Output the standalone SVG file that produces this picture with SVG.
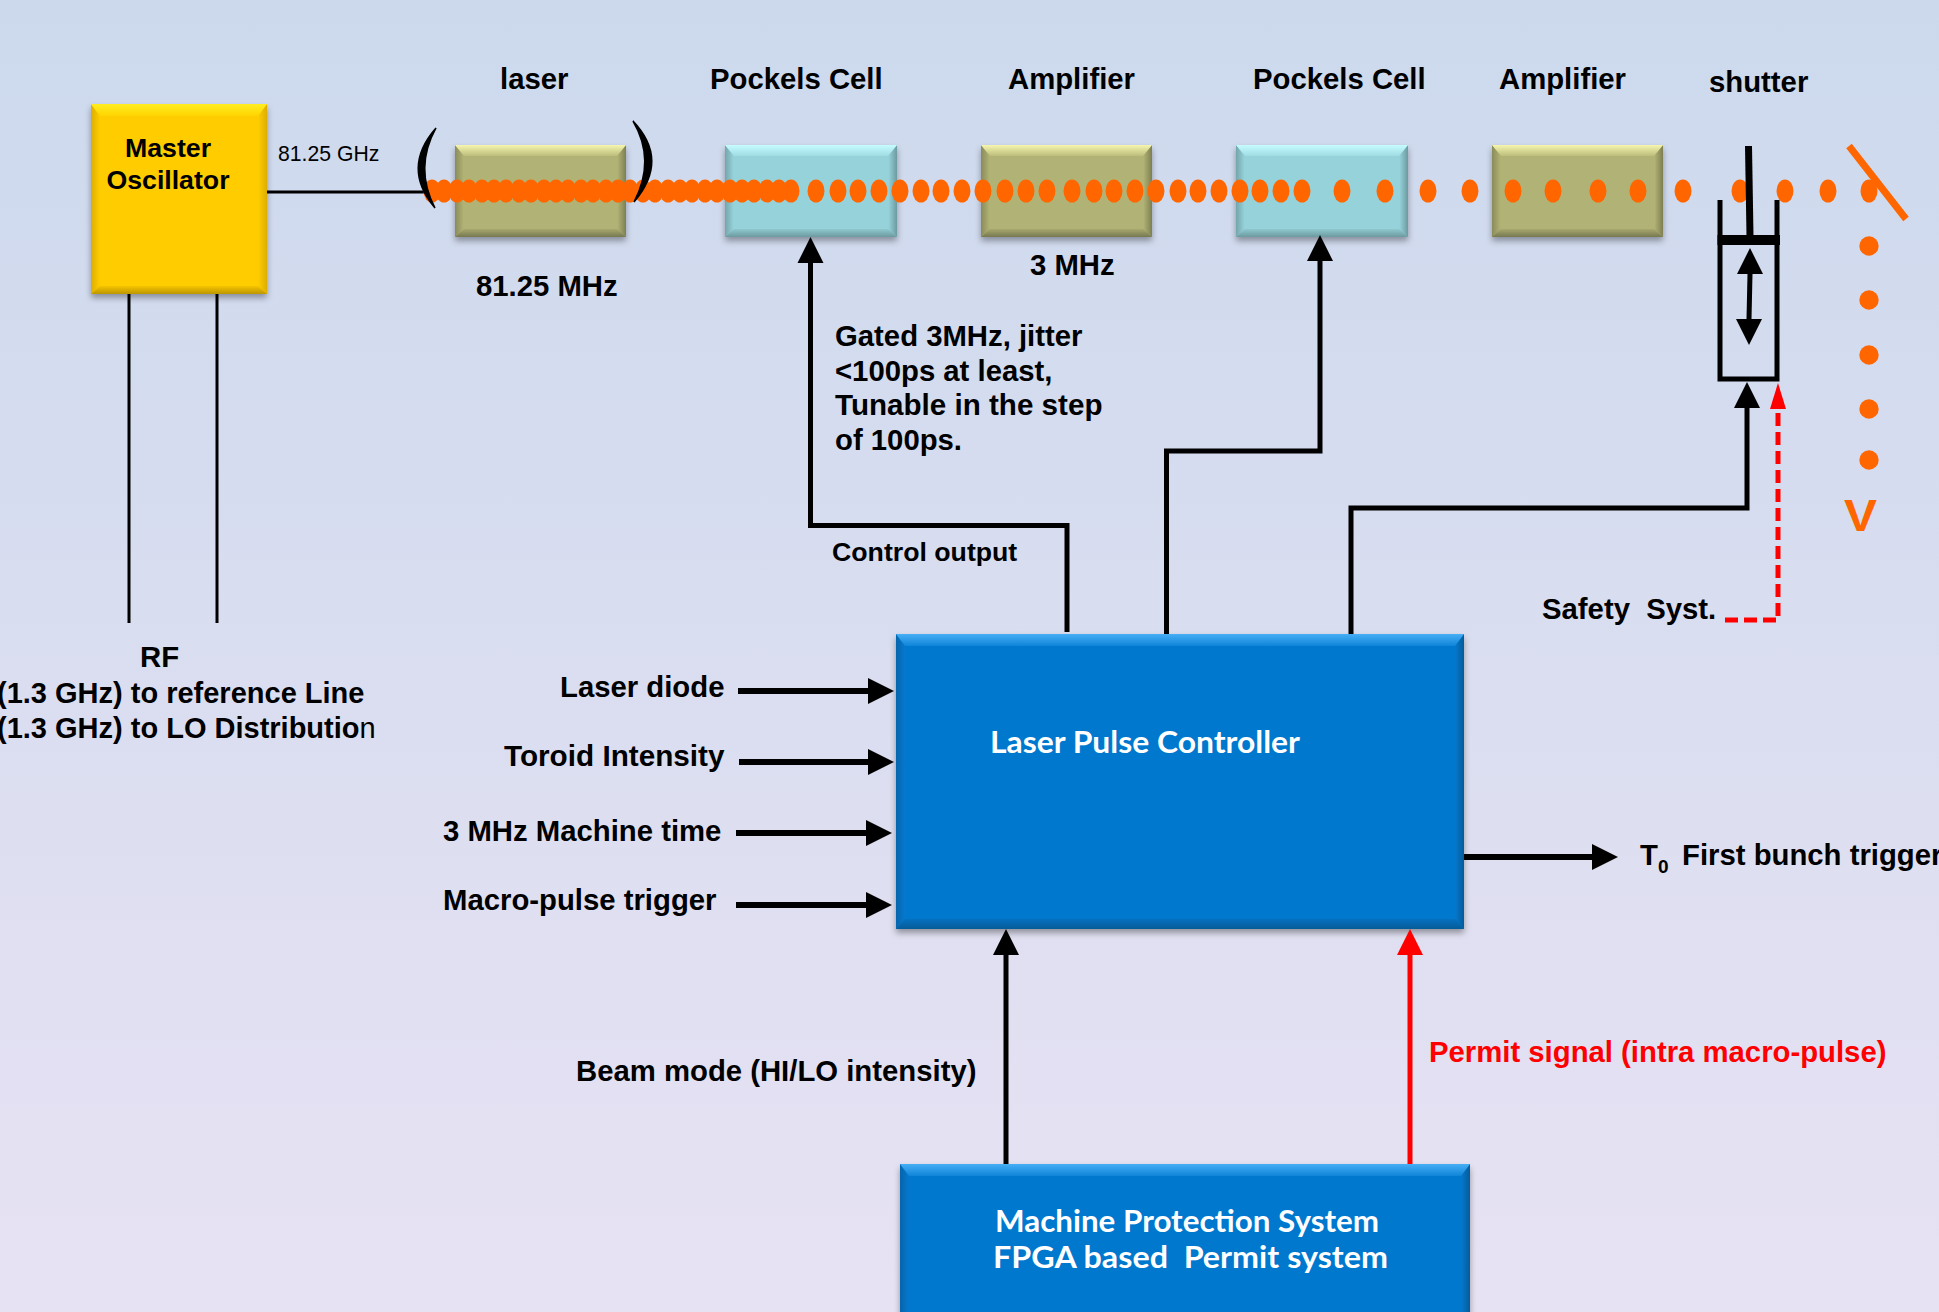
<svg xmlns="http://www.w3.org/2000/svg" xmlns:xlink="http://www.w3.org/1999/xlink" width="1939" height="1312" viewBox="0 0 1939 1312">
<style>
text{font-family:"Liberation Sans",Arial,sans-serif;font-weight:700;font-size:29.3px;fill:#000}
.sm{font-size:26.7px}
.thin{font-size:21.2px;font-weight:400}
.red{fill:#f00}
.cm{font-family:Lato,"Open Sans",sans-serif;fill:#fff;font-size:30px;font-weight:700}
.o{fill:#f60}
.k{fill:none;stroke:#000;stroke-width:5}
.k6{fill:none;stroke:#000;stroke-width:6}
.kt{fill:none;stroke:#000;stroke-width:3}
.r{fill:none;stroke:#f00;stroke-width:5}
.shadow{filter:url(#sh)}
.yb{fill:#fc0}.yt{fill:url(#yt)}.yd{fill:url(#yd)}.ys{fill:url(#ys)}
.ob{fill:#b1b274}.ot{fill:url(#ot)}.od{fill:url(#od)}.os{fill:url(#os)}
.tb{fill:#96d2da}.tt{fill:url(#tt)}.td{fill:url(#td)}.ts{fill:url(#ts)}
.bb{fill:#0678ce}.bt{fill:url(#bt)}.bd{fill:url(#bd)}.bs{fill:url(#bs)}
</style>
<defs>
<linearGradient id="bg" x1="0" y1="0" x2="0" y2="1"><stop offset="0" stop-color="#ccd9ed"/><stop offset="1" stop-color="#e7e2f3"/></linearGradient>
<linearGradient id="yt" x1="0" y1="0" x2="0" y2="1"><stop offset="0" stop-color="#ffee22"/><stop offset="1" stop-color="#ffd400"/></linearGradient>
<linearGradient id="yd" x1="0" y1="0" x2="0" y2="1"><stop offset="0" stop-color="#f5c400"/><stop offset="1" stop-color="#bd9600"/></linearGradient>
<linearGradient id="ys"><stop offset="0" stop-color="#dcae00"/><stop offset=".05" stop-color="#fc0"/><stop offset=".95" stop-color="#fc0"/><stop offset="1" stop-color="#dcae00"/></linearGradient>
<linearGradient id="ot" x1="0" y1="0" x2="0" y2="1"><stop offset="0" stop-color="#f6f6b0"/><stop offset="1" stop-color="#bcbd7c"/></linearGradient>
<linearGradient id="od" x1="0" y1="0" x2="0" y2="1"><stop offset="0" stop-color="#a8a96e"/><stop offset="1" stop-color="#777850"/></linearGradient>
<linearGradient id="os"><stop offset="0" stop-color="#8a8b5a"/><stop offset=".05" stop-color="#b1b274"/><stop offset=".95" stop-color="#b1b274"/><stop offset="1" stop-color="#7e7f52"/></linearGradient>
<linearGradient id="tt" x1="0" y1="0" x2="0" y2="1"><stop offset="0" stop-color="#c6fcff"/><stop offset="1" stop-color="#9fdce3"/></linearGradient>
<linearGradient id="td" x1="0" y1="0" x2="0" y2="1"><stop offset="0" stop-color="#8ec8cf"/><stop offset="1" stop-color="#6c9aa0"/></linearGradient>
<linearGradient id="ts"><stop offset="0" stop-color="#74a5ac"/><stop offset=".05" stop-color="#96d2da"/><stop offset=".95" stop-color="#96d2da"/><stop offset="1" stop-color="#6c9aa0"/></linearGradient>
<linearGradient id="bt" x1="0" y1="0" x2="0" y2="1"><stop offset="0" stop-color="#46aef5"/><stop offset="1" stop-color="#0f84d8"/></linearGradient>
<linearGradient id="bd" x1="0" y1="0" x2="0" y2="1"><stop offset="0" stop-color="#0670bf"/><stop offset="1" stop-color="#055c99"/></linearGradient>
<linearGradient id="bs"><stop offset="0" stop-color="#0565ac"/><stop offset=".016" stop-color="#0678ce"/><stop offset=".984" stop-color="#0678ce"/><stop offset="1" stop-color="#055c99"/></linearGradient>
<filter id="sh" x="-10%" y="-10%" width="120%" height="125%"><feDropShadow dx="0" dy="4" stdDeviation="3" flood-color="#000" flood-opacity=".35"/></filter>
<marker id="ah" markerUnits="userSpaceOnUse" markerWidth="27" markerHeight="28" refX="0" refY="14" orient="auto"><path d="M0 1L26 14L0 27Z" fill="#000"/></marker>
<marker id="ar" markerUnits="userSpaceOnUse" markerWidth="27" markerHeight="18" refX="0" refY="9" orient="auto"><path d="M0 1L26 9L0 17Z" fill="#f00"/></marker>
<marker id="arw" markerUnits="userSpaceOnUse" markerWidth="27" markerHeight="28" refX="0" refY="14" orient="auto"><path d="M0 1L26 14L0 27Z" fill="#f00"/></marker>
<ellipse id="d" cx="0" cy="191" rx="8.5" ry="11.5" fill="#f60"/>
</defs>
<rect width="1939" height="1312" fill="url(#bg)"/>

<g id="master-oscillator">
<rect class="yb shadow" x="91" y="104" width="176" height="190"/>
<path class="ys" d="M91 104L100 116V286L91 294ZM267 104L258 116V286L267 294Z"/>
<path class="yt" d="M91 104H267L258 116H100Z"/>
<path class="yd" d="M91 294H267L258 286H100Z"/>
<text class="sm" x="168" y="157" text-anchor="middle">Master</text>
<text class="sm" x="168" y="189" text-anchor="middle">Oscillator</text>
</g>
<g id="laser">
<rect class="ob shadow" x="455" y="145" width="171" height="92"/>
<path class="os" d="M455 145L464 156V229L455 237ZM626 145L617 156V229L626 237Z"/>
<path class="ot" d="M455 145H626L617 156H464Z"/>
<path class="od" d="M455 237H626L617 229H464Z"/>
</g>
<g id="pockels-1">
<rect class="tb shadow" x="725" y="145" width="172" height="92"/>
<path class="ts" d="M725 145L734 156V229L725 237ZM897 145L888 156V229L897 237Z"/>
<path class="tt" d="M725 145H897L888 156H734Z"/>
<path class="td" d="M725 237H897L888 229H734Z"/>
</g>
<g id="amplifier-1">
<rect class="ob shadow" x="981" y="145" width="171" height="92"/>
<path class="os" d="M981 145L990 156V229L981 237ZM1152 145L1143 156V229L1152 237Z"/>
<path class="ot" d="M981 145H1152L1143 156H990Z"/>
<path class="od" d="M981 237H1152L1143 229H990Z"/>
</g>
<g id="pockels-2">
<rect class="tb shadow" x="1236" y="145" width="172" height="92"/>
<path class="ts" d="M1236 145L1245 156V229L1236 237ZM1408 145L1399 156V229L1408 237Z"/>
<path class="tt" d="M1236 145H1408L1399 156H1245Z"/>
<path class="td" d="M1236 237H1408L1399 229H1245Z"/>
</g>
<g id="amplifier-2">
<rect class="ob shadow" x="1492" y="145" width="171" height="92"/>
<path class="os" d="M1492 145L1501 156V229L1492 237ZM1663 145L1654 156V229L1663 237Z"/>
<path class="ot" d="M1492 145H1663L1654 156H1501Z"/>
<path class="od" d="M1492 237H1663L1654 229H1501Z"/>
</g>
<g id="laser-pulse-controller">
<rect class="bb shadow" x="896" y="634" width="568" height="295"/>
<path class="bs" d="M896 634L905 646V919L896 929ZM1464 634L1455 646V919L1464 929Z"/>
<path class="bt" d="M896 634H1464L1455 646H905Z"/>
<path class="bd" d="M896 929H1464L1455 919H905Z"/>
<text class="cm" x="990" y="753" textLength="310" lengthAdjust="spacingAndGlyphs">Laser Pulse Controller</text>
</g>
<g id="machine-protection-system">
<rect class="bb shadow" x="900" y="1164" width="570" height="160"/>
<path class="bs" d="M900 1164L909 1176V1312H900ZM1470 1164L1461 1176V1312H1470Z"/>
<path class="bt" d="M900 1164H1470L1461 1176H909Z"/>
<text class="cm" x="995" y="1232" textLength="384" lengthAdjust="spacingAndGlyphs">Machine Protection System</text>
<text class="cm" x="993" y="1268" textLength="395" lengthAdjust="spacingAndGlyphs" xml:space="preserve">FPGA based  Permit system</text>
</g>

<g id="connectors">
<path class="kt" d="M267 192H425"/>
<path class="kt" d="M129 294V623M217 294V623"/>
<path class="k" d="M1067 632V525.5H810.5V263" marker-end="url(#ah)"/>
<path class="k" d="M1166.5 634V451H1320V261" marker-end="url(#ah)"/>
<path class="k" d="M1351 634V508H1747V408" marker-end="url(#ah)"/>
<path class="r" stroke-dasharray="13 6" d="M1725 620H1778V409" marker-end="url(#ar)"/>
<path class="k6" d="M738 691H868" marker-end="url(#ah)"/>
<path class="k6" d="M739 762H868" marker-end="url(#ah)"/>
<path class="k6" d="M736 833H866" marker-end="url(#ah)"/>
<path class="k6" d="M736 905H866" marker-end="url(#ah)"/>
<path class="k6" d="M1464 857H1592" marker-end="url(#ah)"/>
<path class="k" d="M1006 1164V955" marker-end="url(#ah)"/>
<path class="r" d="M1410 1164V955" marker-end="url(#arw)"/>
</g>

<g id="beam">
<use href="#d" x="432"/><use href="#d" x="444"/><use href="#d" x="457"/><use href="#d" x="469"/><use href="#d" x="482"/><use href="#d" x="494"/><use href="#d" x="506"/><use href="#d" x="519"/><use href="#d" x="531"/><use href="#d" x="544"/><use href="#d" x="556"/><use href="#d" x="568"/><use href="#d" x="581"/><use href="#d" x="593"/><use href="#d" x="606"/><use href="#d" x="618"/><use href="#d" x="630"/><use href="#d" x="643"/><use href="#d" x="655"/><use href="#d" x="668"/><use href="#d" x="680"/><use href="#d" x="692"/><use href="#d" x="705"/><use href="#d" x="717"/><use href="#d" x="730"/><use href="#d" x="742"/><use href="#d" x="754"/><use href="#d" x="767"/><use href="#d" x="779"/><use href="#d" x="791"/>
<use href="#d" x="816"/><use href="#d" x="838"/><use href="#d" x="858"/><use href="#d" x="879"/><use href="#d" x="900"/><use href="#d" x="921"/><use href="#d" x="941"/><use href="#d" x="962"/><use href="#d" x="983"/>
<use href="#d" x="1005"/><use href="#d" x="1026"/><use href="#d" x="1047"/><use href="#d" x="1072"/><use href="#d" x="1094"/><use href="#d" x="1114"/><use href="#d" x="1135"/><use href="#d" x="1156"/><use href="#d" x="1178"/><use href="#d" x="1198"/><use href="#d" x="1219"/><use href="#d" x="1240"/><use href="#d" x="1260"/><use href="#d" x="1281"/><use href="#d" x="1302"/><use href="#d" x="1342"/><use href="#d" x="1385"/><use href="#d" x="1428"/><use href="#d" x="1470"/><use href="#d" x="1513"/><use href="#d" x="1553"/><use href="#d" x="1598"/><use href="#d" x="1638"/><use href="#d" x="1683"/><use href="#d" x="1740"/><use href="#d" x="1785"/><use href="#d" x="1828"/><use href="#d" x="1869"/>
<circle class="o" cx="1869" cy="246" r="9.7"/><circle class="o" cx="1869" cy="300" r="9.7"/><circle class="o" cx="1869" cy="355" r="9.7"/><circle class="o" cx="1869" cy="409" r="9.7"/><circle class="o" cx="1869" cy="460" r="9.7"/>
<path d="M1849 146L1906 219" fill="none" stroke="#f60" stroke-width="7"/>
<text x="1844" y="531" textLength="33" lengthAdjust="spacingAndGlyphs" style="fill:#f60;font-size:45px">V</text>
</g>

<g id="cavity-mirrors">
<path d="M436 128Q401 168 435 208Q414 168 436 128Z" fill="#000" stroke="#000" stroke-width="1.500"/>
<path d="M633 121Q670 160 634 202Q656 160 633 121Z" fill="#000" stroke="#000" stroke-width="1.500"/>
</g>

<g id="shutter">
<path d="M1720 200V379H1777V200" fill="none" stroke="#000" stroke-width="5"/>
<path d="M1717.500 240H1780" fill="none" stroke="#000" stroke-width="10"/>
<path d="M1748.500 146L1750 236" fill="none" stroke="#000" stroke-width="7"/>
<path d="M1750 274L1749 319" fill="none" stroke="#000" stroke-width="5"/>
<path d="M1750 248L1763 274H1737Z"/>
<path d="M1749 345L1736 319H1762Z"/>
</g>

<g id="labels">
<text x="500" y="89">laser</text>
<text x="710" y="89">Pockels Cell</text>
<text x="1008" y="89">Amplifier</text>
<text x="1253" y="89">Pockels Cell</text>
<text x="1499" y="89">Amplifier</text>
<text x="1709" y="92">shutter</text>
<text x="476" y="296">81.25 MHz</text>
<text x="1030" y="275">3 MHz</text>
<text class="thin" x="278" y="161">81.25 GHz</text>
<text x="835" y="346">Gated 3MHz, jitter</text>
<text x="835" y="381">&lt;100ps at least,</text>
<text x="835" y="415" style="font-size:29.6px">Tunable in the step</text>
<text x="835" y="450">of 100ps.</text>
<text class="sm" x="832" y="561">Control output</text>
<text x="1542" y="619" xml:space="preserve">Safety  Syst.</text>
<text x="140" y="667">RF</text>
<text x="-3" y="703" style="font-size:29px">(1.3 GHz) to reference Line</text>
<text x="-3" y="738" style="font-size:29px">(1.3 GHz) to LO Distributio<tspan style="font-weight:400">n</tspan></text>
<text x="560" y="697">Laser diode</text>
<text x="504" y="766" style="font-size:29.7px">Toroid Intensity</text>
<text x="443" y="841">3 MHz Machine time</text>
<text x="443" y="910">Macro-pulse trigger</text>
<text x="1640" y="865">T</text>
<text x="1658" y="873" style="font-size:19px">0</text>
<text x="1682" y="865">First bunch trigger</text>
<text x="576" y="1081">Beam mode (HI/LO intensity)</text>
<text class="red" x="1429" y="1062">Permit signal (intra macro-pulse)</text>
</g>
</svg>
